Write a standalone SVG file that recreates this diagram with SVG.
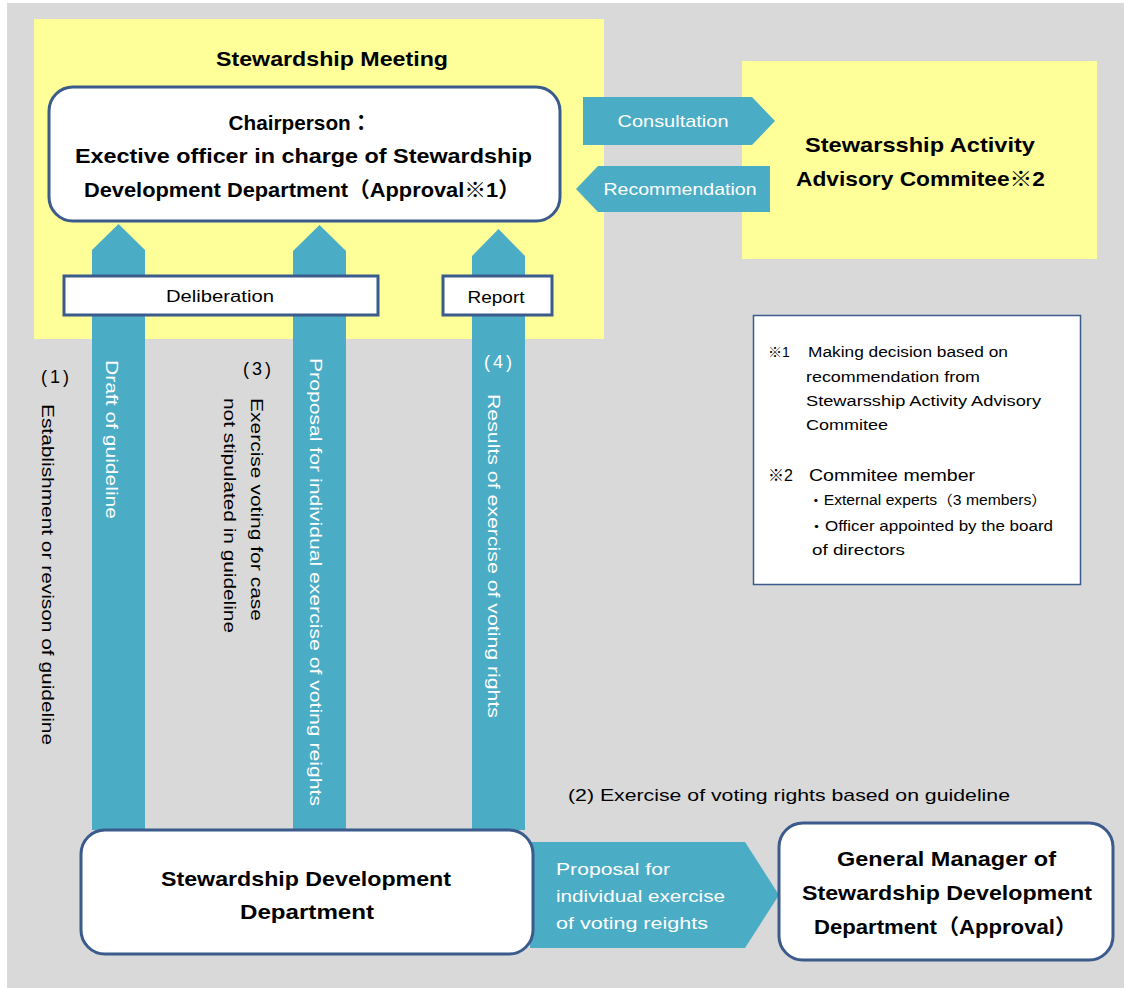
<svg xmlns="http://www.w3.org/2000/svg" width="1124" height="988" viewBox="0 0 1124 988">
<defs>
<style>
.t{font-family:"Liberation Sans","Noto Sans CJK JP",sans-serif;fill:#000}
.b{font-weight:bold}
.w{fill:#fff}
.n{font-size:18px;letter-spacing:3px}
.box{fill:#fff;stroke:#3b5b8c;stroke-width:3}
.arr{fill:#4bacc6}
.yel{fill:#ffff99}
</style>
</defs>
<rect x="0" y="0" width="1124" height="988" fill="#fff"/>
<rect x="7" y="3" width="1117" height="985" fill="#d9d9d9"/>

<g id="stewardship-meeting">
<rect class="yel" x="34" y="19" width="570" height="320"/>
<text class="t b" x="332" y="66" font-size="21" text-anchor="middle" textLength="232" lengthAdjust="spacingAndGlyphs">Stewardship Meeting</text>
</g>

<g id="advisory-committee">
<rect class="yel" x="742" y="61" width="355" height="198"/>
<text class="t b" x="920" y="152" font-size="21" text-anchor="middle" textLength="230" lengthAdjust="spacingAndGlyphs">Stewarsship Activity</text>
<text class="t b" x="920.5" y="186" font-size="21" text-anchor="middle" textLength="249" lengthAdjust="spacingAndGlyphs">Advisory Commitee※2</text>
</g>

<g id="connectors">
<path class="arr" d="M92,830 V250 L118.5,224 L145,250 V830 Z"/>
<path class="arr" d="M293,830 V251 L319.5,225 L346,251 V830 Z"/>
<path class="arr" d="M472,830 V256 L498.5,229 L525,256 V830 Z"/>
<path class="arr" d="M583,97 H752 L775,121 L752,145 H583 Z"/>
<path class="arr" d="M770,166 V212 H598 L576,189 L598,166 Z"/>
<path class="arr" d="M530,842 H745 L779,895 L745,948 H530 Z"/>
<text class="t w" x="673" y="127" font-size="17" text-anchor="middle" textLength="111" lengthAdjust="spacingAndGlyphs">Consultation</text>
<text class="t w" x="680" y="195" font-size="17" text-anchor="middle" textLength="153" lengthAdjust="spacingAndGlyphs">Recommendation</text>
<text class="t w" font-size="17" transform="translate(106,360) rotate(90)" textLength="159" lengthAdjust="spacingAndGlyphs">Draft of guideline</text>
<text class="t w" font-size="17" transform="translate(310,358) rotate(90)" textLength="448" lengthAdjust="spacingAndGlyphs">Proposal for individual exercise of voting reights</text>
<text class="t w n" x="484" y="368">(4)</text>
<text class="t w" font-size="17" transform="translate(488,394) rotate(90)" textLength="324" lengthAdjust="spacingAndGlyphs">Results of exercise of voting rights</text>
<text class="t w" font-size="17"><tspan x="556" y="875" textLength="114" lengthAdjust="spacingAndGlyphs">Proposal for</tspan><tspan x="556" y="902" textLength="169" lengthAdjust="spacingAndGlyphs">individual exercise</tspan><tspan x="556" y="929" textLength="152" lengthAdjust="spacingAndGlyphs">of voting reights</tspan></text>
</g>

<g id="chairperson">
<rect class="box" x="49" y="87" width="511" height="134" rx="24"/>
<text class="t b" x="300" y="130" font-size="21" text-anchor="middle" textLength="143" lengthAdjust="spacingAndGlyphs">Chairperson：</text>
<text class="t b" x="303.5" y="163" font-size="21" text-anchor="middle" textLength="457" lengthAdjust="spacingAndGlyphs">Exective officer in charge of Stewardship</text>
<text class="t b" x="302" y="197" font-size="21" text-anchor="middle" textLength="436" lengthAdjust="spacingAndGlyphs">Development Department（Approval※1）</text>
</g>

<g id="deliberation">
<rect class="box" x="64" y="276" width="314" height="39"/>
<text class="t" x="220" y="302" font-size="16" text-anchor="middle" textLength="108" lengthAdjust="spacingAndGlyphs">Deliberation</text>
</g>

<g id="report">
<rect class="box" x="443" y="276" width="109" height="39"/>
<text class="t" x="496" y="303" font-size="16" text-anchor="middle" textLength="57" lengthAdjust="spacingAndGlyphs">Report</text>
</g>

<g id="notes">
<rect x="753.5" y="315.5" width="327" height="269" fill="#fff" stroke="#3b5b8c" stroke-width="1.5"/>
<text class="t" font-size="14">
<tspan x="768" y="357">※1</tspan><tspan x="808" y="357" textLength="200" lengthAdjust="spacingAndGlyphs">Making decision based on</tspan>
<tspan x="806" y="382" textLength="174" lengthAdjust="spacingAndGlyphs">recommendation from</tspan>
<tspan x="806" y="406" textLength="235" lengthAdjust="spacingAndGlyphs">Stewarsship Activity Advisory</tspan>
<tspan x="806" y="430" textLength="82" lengthAdjust="spacingAndGlyphs">Commitee</tspan>
</text>
<text class="t" font-size="16"><tspan x="768" y="481">※2</tspan><tspan x="809" y="481" textLength="166" lengthAdjust="spacingAndGlyphs">Commitee member</tspan></text>
<text class="t" font-size="14">
<tspan x="808" y="505" textLength="239" lengthAdjust="spacingAndGlyphs">・External experts（3 members）</tspan>
<tspan x="808" y="531" textLength="245" lengthAdjust="spacingAndGlyphs">・Officer appointed by the board</tspan>
<tspan x="812" y="555" textLength="93" lengthAdjust="spacingAndGlyphs">of directors</tspan>
</text>
</g>

<g id="labels">
<text class="t n" x="41" y="383">(1)</text>
<text class="t" font-size="17" transform="translate(42,404) rotate(90)" textLength="341" lengthAdjust="spacingAndGlyphs">Establishment or revison of guideline</text>
<text class="t n" x="243" y="375">(3)</text>
<text class="t" font-size="17" transform="translate(251,398) rotate(90)" textLength="223" lengthAdjust="spacingAndGlyphs">Exercise voting for case</text>
<text class="t" font-size="17" transform="translate(224,398) rotate(90)" textLength="235" lengthAdjust="spacingAndGlyphs">not stipulated in guideline</text>
<text class="t" x="568" y="801" font-size="17" textLength="442" lengthAdjust="spacingAndGlyphs">(2) Exercise of voting rights based on guideline</text>
</g>

<g id="sdd">
<rect class="box" x="81" y="830" width="452" height="124" rx="24"/>
<text class="t b" x="306" y="886" font-size="21" text-anchor="middle" textLength="290" lengthAdjust="spacingAndGlyphs">Stewardship Development</text>
<text class="t b" x="307" y="919" font-size="21" text-anchor="middle" textLength="134" lengthAdjust="spacingAndGlyphs">Department</text>
</g>

<g id="general-manager">
<rect class="box" x="779" y="823" width="334" height="137" rx="24"/>
<text class="t b" x="946.5" y="866" font-size="21" text-anchor="middle" textLength="219" lengthAdjust="spacingAndGlyphs">General Manager of</text>
<text class="t b" x="947" y="900" font-size="21" text-anchor="middle" textLength="290" lengthAdjust="spacingAndGlyphs">Stewardship Development</text>
<text class="t b" x="945.5" y="934" font-size="21" text-anchor="middle" textLength="263" lengthAdjust="spacingAndGlyphs">Department（Approval）</text>
</g>
</svg>
